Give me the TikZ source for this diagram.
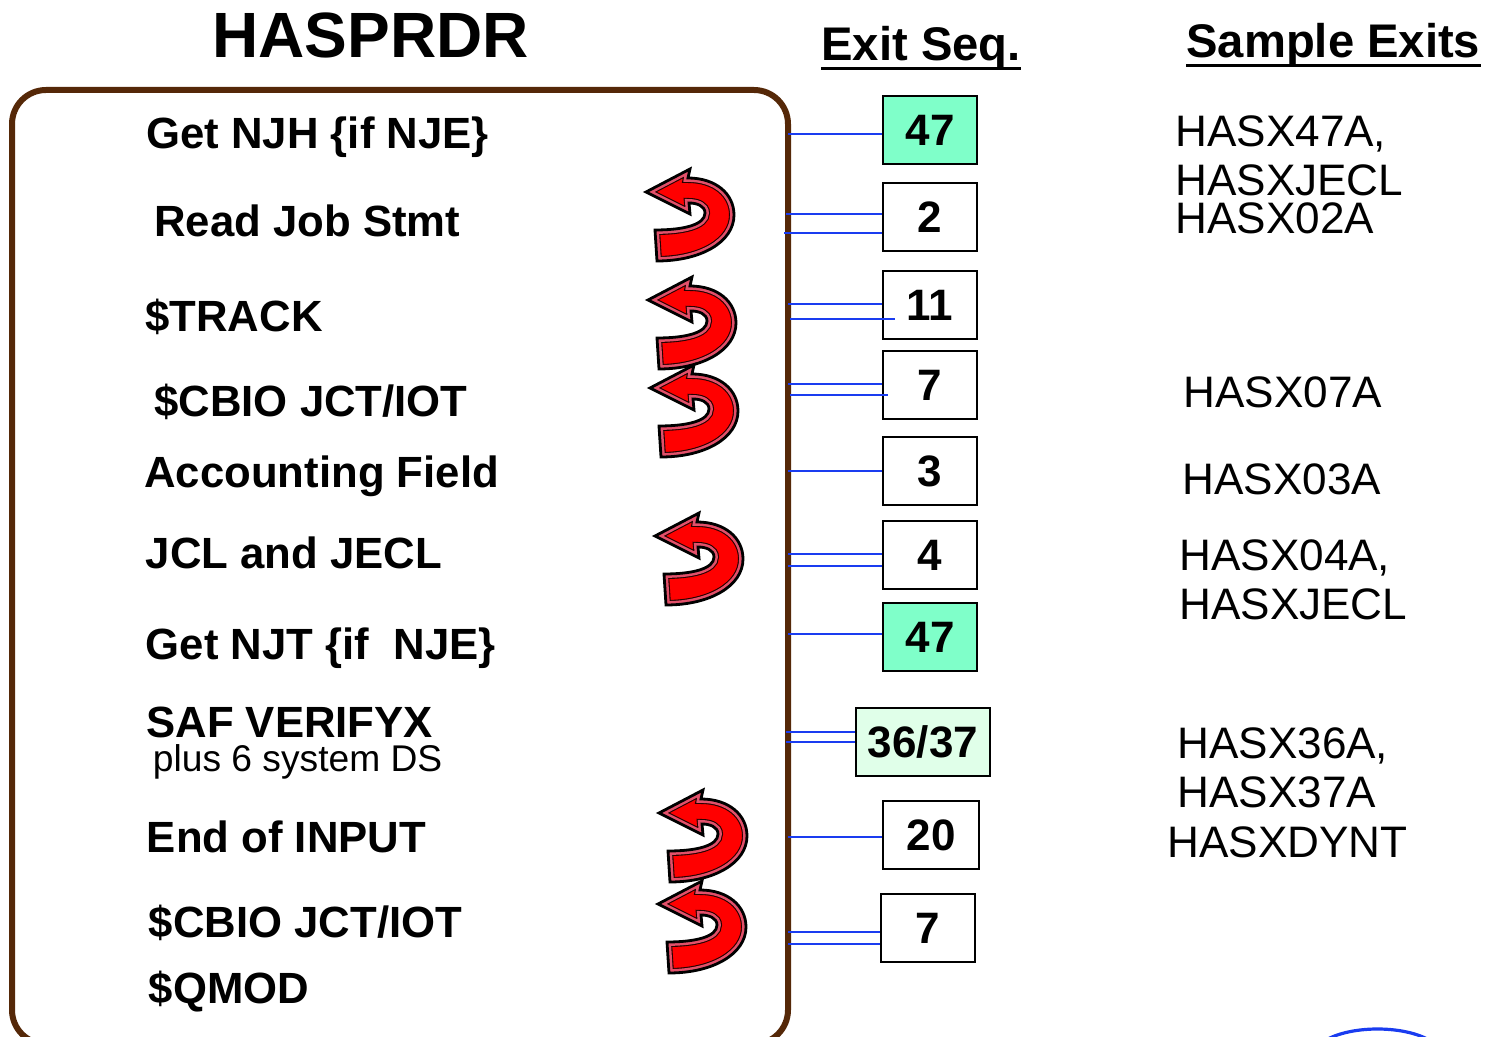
\documentclass[tikz,border=0pt]{standalone}
\usepackage{fontspec}
\setmainfont{Liberation Sans}
\definecolor{framebrown}{HTML}{552808}
\definecolor{linkblue}{HTML}{1A3CF0}
\definecolor{mintbox}{HTML}{7FFFC9}
\definecolor{palebox}{HTML}{E0FFE9}
\definecolor{bevel}{HTML}{E2506A}
\newcommand{\uturnpath}{(0,0) -- (44,-23) -- (42,-14) .. controls (70,-14) and (88,2) .. (88,23) .. controls (88,50) and (55,69) .. (11,69) -- (9,38) .. controls (37,38) and (59,33) .. (59,21) .. controls (59,14) and (51,11) .. (43,11) -- (44,22) -- cycle}
\newcommand{\uturn}[1]{%
  \begin{scope}[shift={#1}]
    \begin{scope}
      \clip \uturnpath;
      \fill[red] \uturnpath;
      \draw[line width=5pt,black!85!red] \uturnpath;
      \draw[line width=3.9pt,bevel] \uturnpath;
    \end{scope}
    \draw[line width=1.4pt,black,line join=miter] \uturnpath;
  \end{scope}}
\tikzset{
  x=0.5pt,y=-0.5pt,
  stagetext/.style={anchor=base west,inner sep=0pt,font=\fontsize{21.85}{26}\selectfont\bfseries},
  smalltext/.style={anchor=base west,inner sep=0pt,font=\fontsize{18.6}{22}\selectfont},
  sampletext/.style={anchor=base west,inner sep=0pt,font=\fontsize{22.05}{26}\selectfont},
  headtext/.style={anchor=base west,inner sep=0pt,font=\fontsize{23.6}{28}\selectfont\bfseries},
  exitbox/.style={draw=black,line width=1pt,fill=white,minimum width=47pt,minimum height=34pt,inner sep=0pt,font=\fontsize{22}{26}\selectfont\bfseries},
  link/.style={draw=linkblue,line width=0.8pt},
  rulehead/.style={draw=black,line width=1.4pt}
}
\begin{document}
\begin{tikzpicture}
\useasboundingbox (0,0) rectangle (1490,1037);
\clip (0,0) rectangle (1490,1037);
% frame
\draw[framebrown,line width=3pt,rounded corners=17pt] (12,90) rectangle (788,1044);
% headings
\node[anchor=base west,inner sep=0pt,font=\fontsize{32}{38}\selectfont\bfseries] (title) at (212,58) {HASPRDR};
\node[headtext] (hseq) at (821,61) {Exit Seq.};
\node[headtext] (hsample) at (1186,58) {Sample Exits};
\draw[rulehead] ([yshift=-3.6pt]hseq.base west) -- ([yshift=-3.6pt]hseq.base east);
\draw[rulehead] ([yshift=-3.6pt]hsample.base west) -- ([yshift=-3.6pt]hsample.base east);
% stages
\node[stagetext] (s1) at (146,149) {Get NJH \{if NJE\}};
\node[stagetext] (s2) at (154,237) {Read Job Stmt};
\node[stagetext] (s3) at (145,332) {\$TRACK};
\node[stagetext] (s4) at (154,417) {\$CBIO JCT/IOT};
\node[stagetext] (s5) at (144,488) {Accounting Field};
\node[stagetext] (s6) at (145.5,569) {JCL and JECL};
\node[stagetext] (s7) at (145.5,660) {Get NJT \{if\ \ NJE\}};
\node[stagetext] (s8) at (146,737) {SAF VERIFYX};
\node[smalltext] (s8b) at (152.5,771) {plus 6 system DS};
\node[stagetext] (s9) at (146.5,852) {End of INPUT};
\node[stagetext] (s10) at (148.5,937) {\$CBIO JCT/IOT};
\node[stagetext] (s11) at (148.5,1003) {\$QMOD};
% arrows
\uturn{(646,192)}
\uturn{(648,300)}
\uturn{(650,388)}
\uturn{(655,536)}
\uturn{(659,813)}
\uturn{(658,904)}
% boxes
\node[exitbox,fill=mintbox] (b1) at (930,130) {47};
\node[exitbox] (b2) at (930,217) {2};
\node[exitbox] (b3) at (930,305) {11};
\node[exitbox] (b4) at (930,385) {7};
\node[exitbox] (b5) at (930,471) {3};
\node[exitbox] (b6) at (930,555) {4};
\node[exitbox,fill=mintbox] (b7) at (930,637) {47};
\node[exitbox,fill=palebox,minimum width=67pt] (b8) at (923,742) {36/37};
\node[exitbox,minimum width=48pt] (b9) at (931,835) {20};
\node[exitbox] (b10) at (928,928) {7};
% links
\coordinate (f1) at (788,134);
\coordinate (f2a) at (786,214);
\coordinate (f2b) at (784,233);
\coordinate (f3a) at (788,304);
\coordinate (f3b) at (790,319);
\coordinate (e3b) at (895,319);
\coordinate (f4a) at (788,384);
\coordinate (f4b) at (790,395);
\coordinate (e4b) at (888,395);
\coordinate (f5) at (788,471);
\coordinate (f6a) at (788,554);
\coordinate (f6b) at (788,566);
\coordinate (f7) at (788,634);
\coordinate (f8a) at (786,732);
\coordinate (f8b) at (786,742);
\coordinate (f9) at (788,837);
\coordinate (f10a) at (788,932);
\coordinate (f10b) at (788,944);
\draw[link] (f1) -- (f1 -| b1.west);
\draw[link] (f2a) -- (f2a -| b2.west);
\draw[link] (f2b) -- (f2b -| b2.west);
\draw[link] (f3a) -- (f3a -| b3.west);
\draw[link] (f3b) -- (e3b);
\draw[link] (f4a) -- (f4a -| b4.west);
\draw[link] (f4b) -- (e4b);
\draw[link] (f5) -- (f5 -| b5.west);
\draw[link] (f6a) -- (f6a -| b6.west);
\draw[link] (f6b) -- (f6b -| b6.west);
\draw[link] (f7) -- (f7 -| b7.west);
\draw[link] (f8a) -- (f8a -| b8.west);
\draw[link] (f8b) -- (f8b -| b8.west);
\draw[link] (f9) -- (f9 -| b9.west);
\draw[link] (f10a) -- (f10a -| b10.west);
\draw[link] (f10b) -- (f10b -| b10.west);
% sample exits
\node[sampletext] (x1) at (1175,147) {HASX47A,};
\node[sampletext] (x2) at (1175,196) {HASXJECL};
\node[sampletext] (x3) at (1175,234) {HASX02A};
\node[sampletext] (x4) at (1183,408) {HASX07A};
\node[sampletext] (x5) at (1182,495) {HASX03A};
\node[sampletext] (x6) at (1179,571) {HASX04A,};
\node[sampletext] (x7) at (1179,620) {HASXJECL};
\node[sampletext] (x8) at (1177,758) {HASX36A,};
\node[sampletext] (x9) at (1177,807) {HASX37A};
\node[sampletext] (x10) at (1167,857) {HASXDYNT};
% partial circle at bottom edge
\draw[linkblue,line width=1.6pt] (1320,1044) .. controls (1345,1024) and (1410,1024) .. (1435,1044);
\end{tikzpicture}
\end{document}
